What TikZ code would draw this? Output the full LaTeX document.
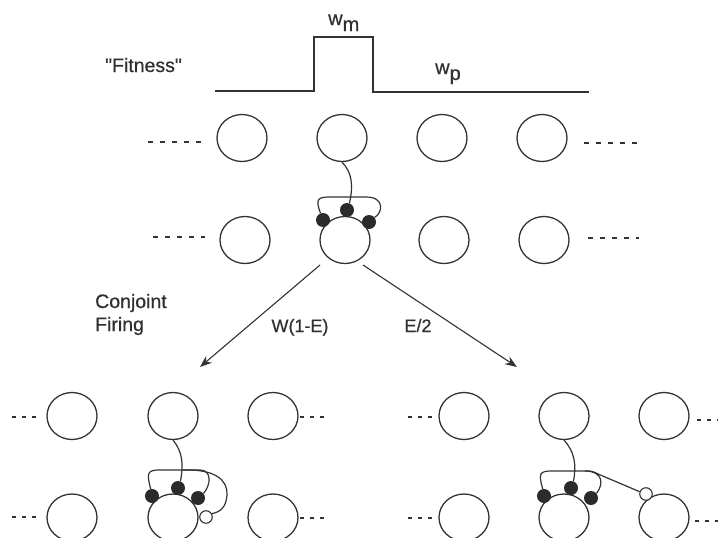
\documentclass[tikz,border=0pt]{standalone}
\usepackage{fontspec}
\newfontfamily\lblfont{Liberation Sans}[FakeBold=0.6]
\usetikzlibrary{shapes.geometric,arrows.meta}
\definecolor{ink}{HTML}{333333}
\definecolor{txt}{HTML}{303030}
\begin{document}
\begin{tikzpicture}[x=1pt,y=-1pt,
  cell/.style={ellipse,draw=ink,line width=1.3pt,minimum width=50pt,minimum height=47pt,inner sep=0pt},
  syn/.style={circle,fill=ink!85!black,minimum size=14pt,inner sep=0pt},
  opensyn/.style={circle,draw=ink,line width=1.1pt,fill=white,minimum size=12.5pt,inner sep=0pt},
  wire/.style={draw=ink,line width=1.2pt},
  lead/.style={draw=ink,line width=1.2pt,dash pattern=on 5pt off 7pt},
  leadshort/.style={draw=ink,line width=1.2pt,dash pattern=on 4pt off 6pt},
  lab/.style={text=txt,font=\lblfont\fontsize{19.5}{23}\selectfont,inner sep=0pt},
  smalllab/.style={text=txt,font=\lblfont\fontsize{18}{21}\selectfont,inner sep=0pt},
  arr/.style={draw=ink,line width=1.1pt,-{Stealth[length=12pt,width=9pt,inset=4pt]}},
]
\fill[white] (0,0) rectangle (718,538);
\useasboundingbox (0,0) rectangle (718,538);

% fitness profile
\draw[wire] (215,91) -- (314,91) -- (314,37) -- (373,37) -- (373,92) -- (589,92);
\node[lab,anchor=base west] (wm) at (328,25) {\fontsize{20}{22}\selectfont w\lower6pt\hbox{m}};
\node[lab,anchor=base west] (wp) at (435,74) {\fontsize{20}{22}\selectfont w\lower6pt\hbox{p}};
\node[lab,anchor=base] (fit) at (143.5,72) {"Fitness"};

% upper map
\foreach \x [count=\i] in {242,342,442,542} \node[cell] (t\i) at (\x,138) {};
\foreach \x [count=\i] in {245,345,444,544} \node[cell] (m\i) at (\x,240) {};
\draw[lead] (148,142) -- (201,142);
\draw[lead] (584,143) -- (639,143);
\draw[lead] (153,237) -- (205,237);
\draw[lead] (588,238) -- (639,238);

% synapses onto the central cell
\node[syn] (pL) at (323,220) {};
\node[syn] (pM) at (347,210) {};
\node[syn] (pR) at (369,222) {};
\draw[wire] (t2.south) .. controls +(10,10) and +(4,-18) .. (pM.70);
\draw[wire] (pL.110) .. controls (315,199) and (318,197) .. (330,197) -- (366,197)
  .. controls (386,197) and (382,214) .. (pR.40);

% branches
\coordinate (a0) at (320,265);
\coordinate (a1) at (200,367);
\coordinate (b0) at (363,265);
\coordinate (b1) at (517,367);
\draw[arr] (a0) -- (a1);
\draw[arr] (b0) -- (b1);
\node[lab,anchor=base west] (cj) at (95,308) {Conjoint};
\node[lab,anchor=base west] (fr) at (95,331) {Firing};
\node[smalllab,anchor=base] (w1e) at (300,332) {W(1-E)};
\node[smalllab,anchor=base] (e2) at (418,332) {E/2};

% lower left map
\foreach \x [count=\i] in {72,173,273} {
  \node[cell] (la\i) at (\x,416) {};
  \node[cell] (lb\i) at (\x,517.5) {};
}
\draw[leadshort] (12,417) -- (38,417);
\draw[leadshort] (12,517) -- (38,517);
\draw[leadshort] (300,417) -- (328,417);
\draw[leadshort] (300,518) -- (328,518);
\node[syn] (qL) at (152,496) {};
\node[syn] (qM) at (178,488) {};
\node[syn] (qR) at (198,498) {};
\node[opensyn] (qO) at (206,517) {};
\draw[wire] (la2.south) .. controls +(10,12) and +(3,-16) .. (qM.70);
\draw[wire] (qL.100) .. controls (146,472) and (148,470) .. (160,470) -- (200,470)
  .. controls (212,470) and (211,485) .. (qR.40);
\draw[wire] (183,470) .. controls (215,469) and (228,480) .. (227,495)
  .. controls (226,508) and (220,512) .. (qO.30);

% lower right map
\foreach \x [count=\i] in {464,564,664} {
  \node[cell] (ra\i) at (\x,416) {};
  \node[cell] (rb\i) at (\x,517.5) {};
}
\draw[leadshort] (408,417) -- (435,417);
\draw[leadshort] (408,518) -- (435,518);
\draw[leadshort] (697,420) -- (718,420);
\draw[leadshort] (695,521) -- (718,521);
\node[syn] (sL) at (544,496) {};
\node[syn] (sM) at (571,488) {};
\node[syn] (sR) at (591,498) {};
\node[opensyn] (sO) at (646,494) {};
\draw[wire] (ra2.south) .. controls +(11,12) and +(3,-16) .. (sM.70);
\draw[wire] (sL.100) .. controls (538,473) and (540,471) .. (552,471) -- (585,471)
  .. controls (603,471) and (604,484) .. (sR.40);
\draw[wire] (585,471) .. controls (592,471) .. (598,474) -- (sO.160);
\end{tikzpicture}
\end{document}
